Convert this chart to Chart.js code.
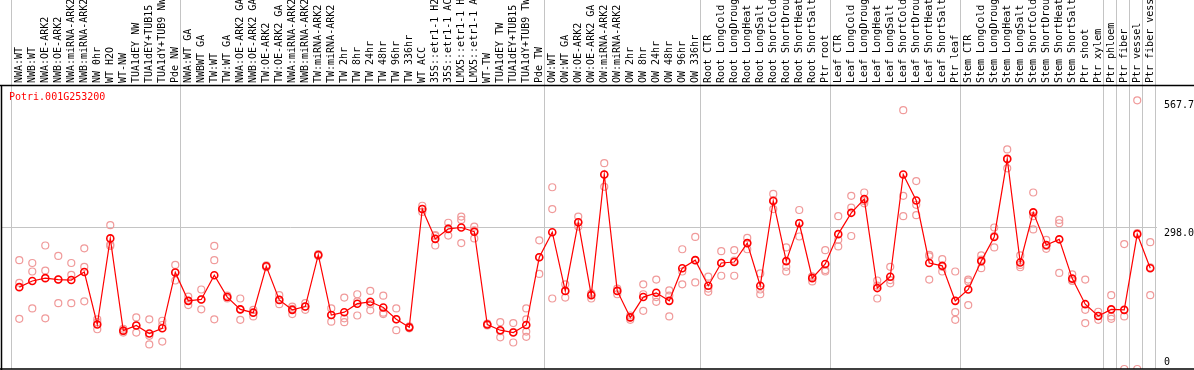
<!DOCTYPE html>
<html>
<head>
<meta charset="utf-8">
<script src="https://cdn.jsdelivr.net/npm/chart.js@4.4.1/dist/chart.umd.min.js"></script>
<style>
body { margin: 0; background: #fff; }
</style>
</head>
<body>
<canvas id="chart" width="1194" height="370"></canvas>
<script>
var geneName = 'Potri.001G253200';

var samples = [
  'NWA:WT', 'NWB:WT', 'NWA:OE-ARK2', 'NWB:OE-ARK2', 'NWA:miRNA-ARK2', 'NWB:miRNA-ARK2', 'NW 0hr', 'WT H2O', 'WT-NW',
  'TUA1dEY NW', 'TUA1dEY+TUB15', 'TUA1dY+TUB9 NW', 'Pde NW',
  'NWA:WT GA', 'NWBWT GA', 'TW:WT', 'TW:WT GA', 'NWA:OE-ARK2 GA', 'NWB:OE-ARK2 GA', 'TW:OE-ARK2', 'TW:OE-ARK2 GA',
  'NWA:miRNA-ARK2', 'NWB:miRNA-ARK2', 'TW:miRNA-ARK2', 'TW:miRNA-ARK2', 'TW 2hr', 'TW 8hr', 'TW 24hr', 'TW 48hr',
  'TW 96hr', 'TW 336hr', 'WT ACC', '35S::etr1-1 H2', '35S::etr1-1 AC', 'LMX5::etr1-1 H', 'LMX5::etr1-1 A', 'WT-TW',
  'TUA1dEY TW', 'TUA1dEY+TUB15', 'TUA1dY+TUB9 TW', 'Pde TW',
  'OW:WT', 'OW:WT GA', 'OW:OE-ARK2', 'OW:OE-ARK2 GA', 'OW:miRNA-ARK2', 'OW:miRNA-ARK2', 'OW 2hr', 'OW 8hr',
  'OW 24hr', 'OW 48hr', 'OW 96hr', 'OW 336hr',
  'Root CTR', 'Root LongCold', 'Root LongDroug', 'Root LongHeat', 'Root LongSalt', 'Root ShortCold', 'Root ShortDrou',
  'Root ShortHeat', 'Root ShortSalt', 'Ptr root',
  'Leaf CTR', 'Leaf LongCold', 'Leaf LongDroug', 'Leaf LongHeat', 'Leaf LongSalt', 'Leaf ShortCold', 'Leaf ShortDrou',
  'Leaf ShortHeat', 'Leaf ShortSalt', 'Ptr leaf',
  'Stem CTR', 'Stem LongCold', 'Stem LongDroug', 'Stem LongHeat', 'Stem LongSalt', 'Stem ShortCold', 'Stem ShortDrou',
  'Stem ShortHeat', 'Stem ShortSalt', 'Ptr shoot', 'Ptr xylem',
  'Ptr phloem', 'Ptr fiber', 'Ptr vessel', 'Ptr fiber vess'
];

// samples per block, separated by grey lines
var groupSizes = [13, 28, 12, 10, 10, 11, 1, 1, 1, 1];

var meanValues = [
  173, 186, 192, 189, 188, 205, 94, 276, 81, 92, 75, 86, 204,
  144, 147, 198, 152, 126, 119, 217, 146, 125, 132, 241, 114, 120, 138, 142, 130, 105, 88, 338, 275, 296, 299, 290,
  94, 82, 77, 93, 236,
  289, 165, 310, 156, 411, 165, 109, 152, 161, 144, 213, 230,
  176, 224, 226, 266, 176, 355, 228, 308, 192, 222,
  285, 330, 359, 171, 195, 411, 356, 224, 218, 144,
  168, 228, 279, 444, 225, 331, 262, 274, 191, 137, 112,
  126, 125, 285, 213
];

var replicates = [
  [230, 182, 106], [224, 206, 128], [261, 208, 107], [239, 189, 139], [224, 199, 139], [255, 216, 143],
  [105, 99, 84], [304, 263, 260], [85, 80, 77], [109, 92, 77], [105, 70, 52], [102, 93, 58], [220, 204, 187],
  [153, 144, 135], [168, 147, 126], [260, 230, 105], [155, 152, 149], [149, 126, 104], [125, 120, 111],
  [219, 217, 215], [156, 146, 137], [132, 127, 116], [139, 132, 125], [243, 241, 239], [128, 114, 100],
  [151, 107, 99], [158, 143, 113], [165, 137, 124], [155, 119, 116], [128, 105, 82], [90, 88, 86],
  [345, 338, 332], [283, 281, 261], [309, 297, 282], [322, 315, 266], [301, 293, 276], [96, 94, 92],
  [99, 80, 67], [97, 78, 56], [128, 105, 79, 68], [272, 236, 201],
  [384, 338, 149], [179, 165, 151], [322, 310, 301], [160, 158, 149], [435, 411, 385], [170, 165, 158],
  [113, 109, 104], [179, 158, 123], [189, 152, 142], [166, 155, 111], [253, 206, 179], [279, 230, 183],
  [195, 170, 163], [249, 224, 197], [251, 229, 197], [277, 266, 253], [202, 168, 158], [370, 357, 338],
  [257, 216, 206], [336, 308, 280], [195, 195, 185], [251, 209, 206],
  [323, 273, 259], [366, 341, 281], [373, 355, 350], [187, 176, 149], [216, 188, 181], [547, 366, 323],
  [397, 347, 325], [241, 238, 189], [232, 216, 206], [206, 120, 104],
  [189, 185, 135], [240, 231, 213], [299, 281, 257], [464, 444, 424], [240, 220, 215], [373, 323, 295],
  [273, 260, 254], [315, 308, 203], [200, 187, 186], [189, 125, 97], [121, 112, 104],
  [156, 111, 106], [264, 111, 0], [567.7, 287, 0], [268, 215, 156]
];

var yTicks = [0, 298.0, 567.7];
var yMax = 598;

var meanPoints = meanValues.map(function (v, i) { return {x: i, y: v}; });
var repPoints = [];
replicates.forEach(function (reps, i) {
  reps.forEach(function (v) { repPoints.push({x: i, y: v}); });
});

var breaks = [-0.6];
var pos = 0;
groupSizes.forEach(function (n) { pos += n; breaks.push(pos - 0.6); });

var mono = {family: 'DejaVu Sans Mono', size: 10};

function noPad(scale) {
  scale.paddingTop = 0;
  scale.paddingBottom = 0;
  scale.paddingLeft = 0;
  scale.paddingRight = 0;
}

var decor = {
  id: 'decor',
  beforeDatasetsDraw: function (chart) {
    var ctx = chart.ctx, xs = chart.scales.x, area = chart.chartArea;
    ctx.save();
    ctx.strokeStyle = '#c4c4c4';
    ctx.lineWidth = 1;
    breaks.forEach(function (b) {
      var px = Math.round(xs.getPixelForValue(b)) + 0.5;
      ctx.beginPath();
      ctx.moveTo(px, 0);
      ctx.lineTo(px, area.bottom);
      ctx.stroke();
    });
    ctx.restore();
  },
  afterDraw: function (chart) {
    var ctx = chart.ctx, area = chart.chartArea;
    ctx.save();
    ctx.strokeStyle = '#000';
    ctx.lineWidth = 1.5;
    ctx.beginPath();
    ctx.moveTo(0, area.top - 0.5);
    ctx.lineTo(chart.width, area.top - 0.5);
    ctx.moveTo(area.left - 0.5, area.top);
    ctx.lineTo(area.left - 0.5, chart.height);
    ctx.moveTo(0, area.bottom);
    ctx.lineTo(chart.width, area.bottom);
    ctx.stroke();
    ctx.fillStyle = '#ff0000';
    ctx.font = '10px "DejaVu Sans Mono"';
    ctx.fillText(geneName, area.left + 7, area.top + 14);
    ctx.restore();
  }
};

new Chart(document.getElementById('chart'), {
  type: 'line',
  data: {
    datasets: [
      {
        label: 'mean',
        data: meanPoints,
        borderColor: '#ff0000',
        borderWidth: 1.2,
        tension: 0,
        pointRadius: 3.5,
        pointBorderWidth: 1.6,
        pointBorderColor: '#ff0000',
        pointBackgroundColor: 'rgba(0,0,0,0)'
      },
      {
        label: 'replicates',
        data: repPoints,
        showLine: false,
        pointRadius: 3.5,
        pointBorderWidth: 1.2,
        pointBorderColor: '#f09a9a',
        pointBackgroundColor: 'rgba(0,0,0,0)'
      }
    ]
  },
  options: {
    responsive: false,
    animation: false,
    layout: {autoPadding: false, padding: {left: 2, right: 0, top: 0, bottom: 1}},
    plugins: {legend: {display: false}, tooltip: {enabled: false}},
    scales: {
      x: {
        type: 'linear',
        position: 'top',
        min: -1.33,
        max: 87.52,
        grid: {display: false, drawTicks: false},
        border: {display: false},
        afterBuildTicks: function (scale) {
          scale.ticks = samples.map(function (s, i) { return {value: i}; });
        },
        afterFit: function (scale) { scale.height = 86; noPad(scale); },
        ticks: {
          autoSkip: false,
          minRotation: 90,
          maxRotation: 90,
          padding: 3,
          labelOffset: 12,
          color: '#000',
          font: mono,
          callback: function (v) { return samples[v]; }
        }
      },
      y: {
        position: 'right',
        min: 0,
        max: yMax,
        border: {display: false},
        grid: {
          drawTicks: false,
          color: function (c) { return c.tick && c.tick.value === 298 ? '#c4c4c4' : 'rgba(0,0,0,0)'; }
        },
        afterBuildTicks: function (scale) {
          scale.ticks = yTicks.map(function (v) { return {value: v}; });
        },
        afterFit: function (scale) { scale.width = 37; noPad(scale); },
        ticks: {
          autoSkip: false,
          align: 'start',
          padding: 7,
          color: '#000',
          font: mono,
          // the 0 label sits above the base line, the others hang below their value
          callback: function (v) { return v === 0 ? ['0', '', ''] : v.toFixed(1); }
        }
      }
    }
  },
  plugins: [decor]
});
</script>
</body>
</html>
